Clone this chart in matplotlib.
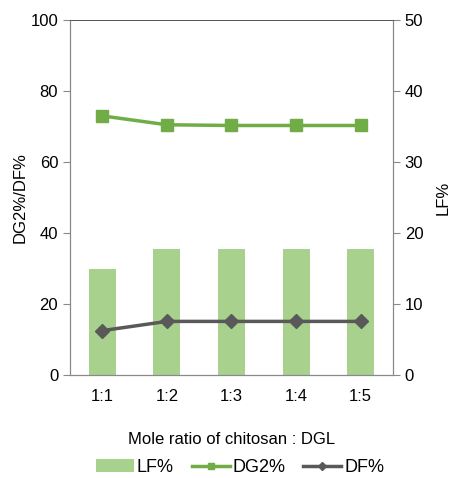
import matplotlib
matplotlib.use("Agg")
import matplotlib.pyplot as plt
import numpy as np

plt.rcParams['font.family'] = ['Liberation Sans', 'DejaVu Sans']

ratios = ['1:1', '1:2', '1:3', '1:4', '1:5']
lf = [15.0, 17.7, 17.8, 17.8, 17.8]
dg2 = [73.0, 70.5, 70.3, 70.3, 70.3]
df = [12.5, 15.1, 15.1, 15.1, 15.1]

fig = plt.figure(figsize=(4.53, 4.78), dpi=100)
ax = fig.add_axes([0.1545, 0.2155, 0.713, 0.7425])
ax2 = ax.twinx()

x = np.arange(len(ratios))

ax2.bar(x, lf, width=0.42, color='#A9D18E', label='LF%', zorder=1)
ax.plot(x, dg2, color='#70AD47', marker='s', markersize=8, lw=2.5, label='DG2%', zorder=3)
ax.plot(x, df, color='#595959', marker='D', markersize=7, lw=2.5, label='DF%', zorder=3)

# lines above the bars
ax.set_zorder(ax2.get_zorder() + 1)
ax.patch.set_visible(False)

ax.set_xlim(-0.5, 4.5)
ax.set_ylim(0, 100)
ax2.set_ylim(0, 50)
ax.set_yticks(range(0, 101, 20))
ax2.set_yticks(range(0, 51, 10))
ax.set_xticks(x)
ax.set_xticklabels(ratios)

for a in (ax, ax2):
    for s in ['left', 'right', 'bottom']:
        a.spines[s].set_color('#898989')
    a.spines['top'].set_color('#555555')
    a.spines['top'].set_linewidth(0.6)
    a.tick_params(labelsize=12, color='#898989', length=5)
ax.tick_params(axis='x', length=0, pad=10)

ax.set_ylabel('DG2%/DF%', fontsize=12, labelpad=2)
ax2.set_ylabel('LF%', fontsize=12, labelpad=9)
ax.set_xlabel('Mole ratio of chitosan : DGL', fontsize=12, labelpad=20)

h1, l1 = ax2.get_legend_handles_labels()
h2, l2 = ax.get_legend_handles_labels()
leg = fig.legend(h1 + h2, l1 + l2, loc='center', bbox_to_anchor=(0.53, 0.022), ncol=3,
                 frameon=False, fontsize=13, handlelength=2.1, columnspacing=1.0,
                 handletextpad=0.15, markerscale=0.55)

fig.savefig('out.png', dpi=100)
